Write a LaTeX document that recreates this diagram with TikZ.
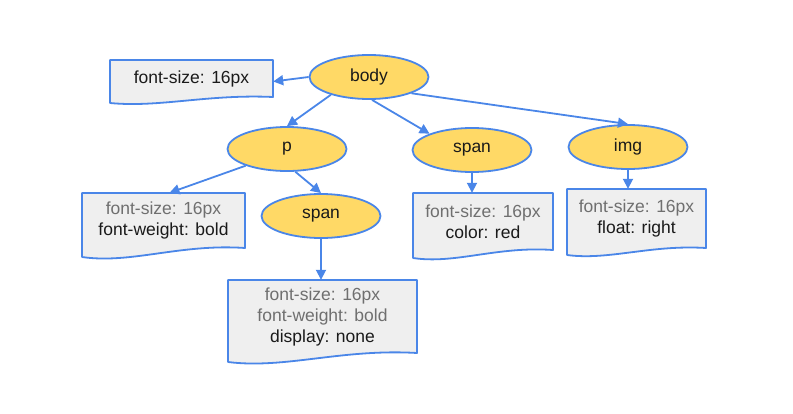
\documentclass[tikz,border=0pt]{standalone}
\usepackage{fontspec}
\setmainfont{Liberation Sans}
\usetikzlibrary{shapes.geometric,arrows.meta}
\definecolor{lblue}{HTML}{4A86E8}
\definecolor{eyellow}{HTML}{FFD966}
\definecolor{dgray}{HTML}{EFEFEF}
\definecolor{gtxt}{HTML}{6F6F6F}
\definecolor{txt}{HTML}{1A1A1A}
\tikzset{
 ell/.style={ellipse, draw=lblue, fill=eyellow, line width=1.8pt, minimum width=119pt, minimum height=44pt, inner sep=0pt, font=\fontsize{17.5}{21}\selectfont, text=txt},
 arr/.style={draw=lblue, line width=1.8pt, -{Triangle[length=10pt,width=10pt]}},
 docline/.style={draw=lblue, fill=dgray, line width=1.8pt, line join=round},
 doctext/.style={inner sep=0pt, align=center, font=\fontsize{17.5}{21}\selectfont, text=txt},
}
\newcommand\docbox[7]{%
 \draw[docline] (#2,#3) -- (#4,#3) -- (#4,#5) .. controls ({#2+0.6*(#4-#2)},{#5-0.5*(#6-#5)}) and ({#2+0.3*(#4-#2)},{#6+0.8*(#6-#5)}) .. (#2,#6) -- cycle;
 \pgfmathsetmacro\dbw{#4-#2}\pgfmathsetmacro\dbh{#5-#3}
 \node[doctext, minimum width=\dbw pt, minimum height=\dbh pt] (#1) at ({(#2+#4)/2},{(#3+#5)/2}) {#7};
}
\begin{document}
\begin{tikzpicture}[x=1pt,y=-1pt]
\useasboundingbox (0,0) rectangle (793,413);
% ellipses
\node[ell] (body) at (369,77) {body};
\node[ell] (p) at (287,149) {p};
\node[ell] (spanm) at (321,216) {span};
\node[ell] (spanr) at (472,150) {span};
\node[ell] (img) at (628,147) {img};
% documents
\docbox{fs}{110}{60}{273}{97}{103}{font-size: 16px}
\docbox{pdoc}{82}{193}{245}{248}{257}{\textcolor{gtxt}{font-size: 16px}\\font-weight: bold}
\docbox{bdoc}{228}{280}{417}{353}{362}{\textcolor{gtxt}{font-size: 16px}\\\textcolor{gtxt}{font-weight: bold}\\display: none}
\docbox{sdoc}{413}{193}{553}{250}{258}{\textcolor{gtxt}{font-size: 16px}\\color: red}
\docbox{idoc}{567}{189}{706}{248}{255}{\textcolor{gtxt}{font-size: 16px}\\float: right}
% connectors
\draw[arr] (body.west) -- ([yshift=-3pt]fs.east);
\draw[arr] (body.205) -- (p.north);
\draw[arr] ([xshift=3pt]body.south) -- (spanr.159);
\draw[arr] (body.-21) -- (img.north);
\draw[arr] (p.202) -- ([xshift=6pt]pdoc.north);
\draw[arr] (p.290) -- (spanm.north);
\draw[arr] (spanm.south) -- (spanm.south |- bdoc.north);
\draw[arr] (spanr.south) -- (spanr.south |- sdoc.north);
\draw[arr] (img.south) -- (img.south |- idoc.north);
\end{tikzpicture}
\end{document}
